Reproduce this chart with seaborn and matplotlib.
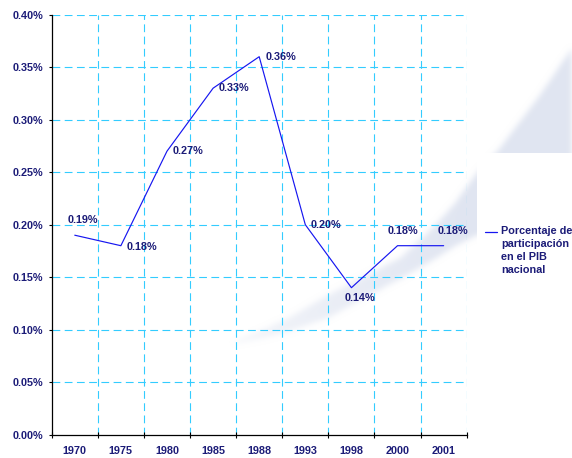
import numpy as np
import pandas as pd
import matplotlib
matplotlib.use("Agg")
import matplotlib.pyplot as plt
from matplotlib.path import Path
from matplotlib.lines import Line2D
from matplotlib.ticker import FixedLocator, FuncFormatter
import seaborn as sns

# Share of national GDP (percent) per year
years = ["1970", "1975", "1980", "1985", "1988", "1993", "1998", "2000", "2001"]
share = [0.19, 0.18, 0.27, 0.33, 0.36, 0.20, 0.14, 0.18, 0.18]
series_name = "Porcentaje de\nparticipación\nen el PIB\nnacional"
y_ticks = [0.00, 0.05, 0.10, 0.15, 0.20, 0.25, 0.30, 0.35, 0.40]

# label offsets (points) and alignment for each data label
label_offsets = [(-5, 11, "left"), (4.3, -1, "left"), (4, 0, "left"), (4.3, 0, "left"),
                 (4.3, 0, "left"), (3.8, 0, "left"), (6, -7.6, "center"),
                 (3.8, 10.8, "center"), (6.4, 10.8, "center")]

sns.set_theme(style="white")
plt.rcParams["font.family"] = ["Liberation Sans", "DejaVu Sans"]

NAVY = "#1c1c78"
GRID = "#33CCFF"
LINE = "#1616F0"
W, H = 572, 458

fig = plt.figure(figsize=(W / 100, H / 100), dpi=100)
fig.patch.set_facecolor("white")

# faint decorative swoosh in the background (soft-edged raster)
bg = fig.add_axes([0, 0, 1, 1], zorder=-5)
bg.set_xlim(0, W)
bg.set_ylim(H, 0)
bg.axis("off")
upper = [(233, 342), (267, 328), (290, 317), (330, 294), (367, 275), (400, 258),
         (433, 228), (455, 203), (477, 173), (500, 148), (540, 95), (572, 48), (580, 36)]
lower = [(580, 235), (520, 232), (477, 235), (455, 246), (433, 260), (400, 279),
         (367, 296), (330, 317), (290, 331), (267, 337), (238, 343)]
shape = Path(upper + lower + [upper[0]], closed=True)
px, py = np.meshgrid(np.arange(W) + 0.5, np.arange(H) + 0.5)
mask = shape.contains_points(np.column_stack([px.ravel(), py.ravel()])).reshape(H, W)
mask = mask.astype(float)
k = np.exp(-0.5 * (np.arange(-9, 10) / 3.0) ** 2)
k /= k.sum()
mask = np.apply_along_axis(lambda r: np.convolve(r, k, mode="same"), 1, mask)
mask = np.apply_along_axis(lambda c: np.convolve(c, k, mode="same"), 0, mask)
mask[(px >= 477) & (py >= 153)] = 0.0
ramp = 0.3 + 0.7 * np.clip((px - 228) / 240, 0, 1) ** 0.8
rgba = np.zeros((H, W, 4))
rgba[..., 0] = 0.880
rgba[..., 1] = 0.900
rgba[..., 2] = 0.948
rgba[..., 3] = mask * ramp
bg.imshow(rgba, extent=[0, W, H, 0], aspect="auto", interpolation="nearest")

# main chart
ax = fig.add_axes([51.7 / W, (H - 434.7) / H, (466.7 - 51.7) / W, (434.7 - 14.7) / H])
ax.set_facecolor("none")

df = pd.DataFrame({"year": years, "share": share})
sns.lineplot(data=df, x="year", y="share", sort=False, color=LINE, linewidth=0.85, ax=ax)

ax.set_xlim(-0.5, len(years) - 0.5)
ax.set_ylim(0, 0.40)
ax.set_xlabel("")
ax.set_ylabel("")

# y axis
ax.yaxis.set_major_locator(FixedLocator(y_ticks))
ax.yaxis.set_major_formatter(FuncFormatter(lambda v, p: f"{v:.2f}%"))
ax.tick_params(axis="y", which="major", left=True, direction="out", length=2.5, width=0.8,
               color="black", pad=3.8, labelsize=7.8, labelcolor=NAVY)

# x axis: labels at category centers, ticks/grid at category boundaries
ax.set_xticks(range(len(years)))
ax.set_xticklabels(years)
ax.set_xticks(np.arange(-0.5, len(years)), minor=True)
ax.tick_params(axis="x", which="major", length=0, pad=8, labelsize=7.8, labelcolor=NAVY)
ax.tick_params(axis="x", which="minor", bottom=True, direction="inout", length=4, width=0.8,
               color="black")
for lbl in ax.get_xticklabels() + ax.get_yticklabels():
    lbl.set_fontweight("bold")

ax.grid(False)
grid_style = dict(color=GRID, linewidth=0.8, linestyle=(0, (7, 4)), zorder=0)
for yv in y_ticks[1:]:
    ax.axhline(yv, **grid_style)
for xv in np.arange(0.5, len(years)):
    ax.axvline(xv, **grid_style)

for side in ("top", "right"):
    ax.spines[side].set_visible(False)
for side in ("left", "bottom"):
    ax.spines[side].set_color("black")
    ax.spines[side].set_linewidth(0.9)
    ax.spines[side].set_zorder(5)

# value labels
for i, (v, (dx, dy, ha)) in enumerate(zip(share, label_offsets)):
    ax.annotate(f"{v:.2f}%", xy=(i, v), xytext=(dx, dy), textcoords="offset points",
                ha=ha, va="center", fontsize=7.8, fontweight="bold", color=NAVY,
                annotation_clip=False)

# legend entry to the right of the plot
fig.add_artist(Line2D([485 / W, 497 / W], [(H - 231.5) / H] * 2, color=LINE, linewidth=0.9))
fig.text(501 / W, (H - 226) / H, series_name, ha="left", va="top", fontsize=7.8,
         fontweight="bold", color=NAVY, linespacing=1.38)

fig.savefig("out.png", dpi=100, facecolor="white")
